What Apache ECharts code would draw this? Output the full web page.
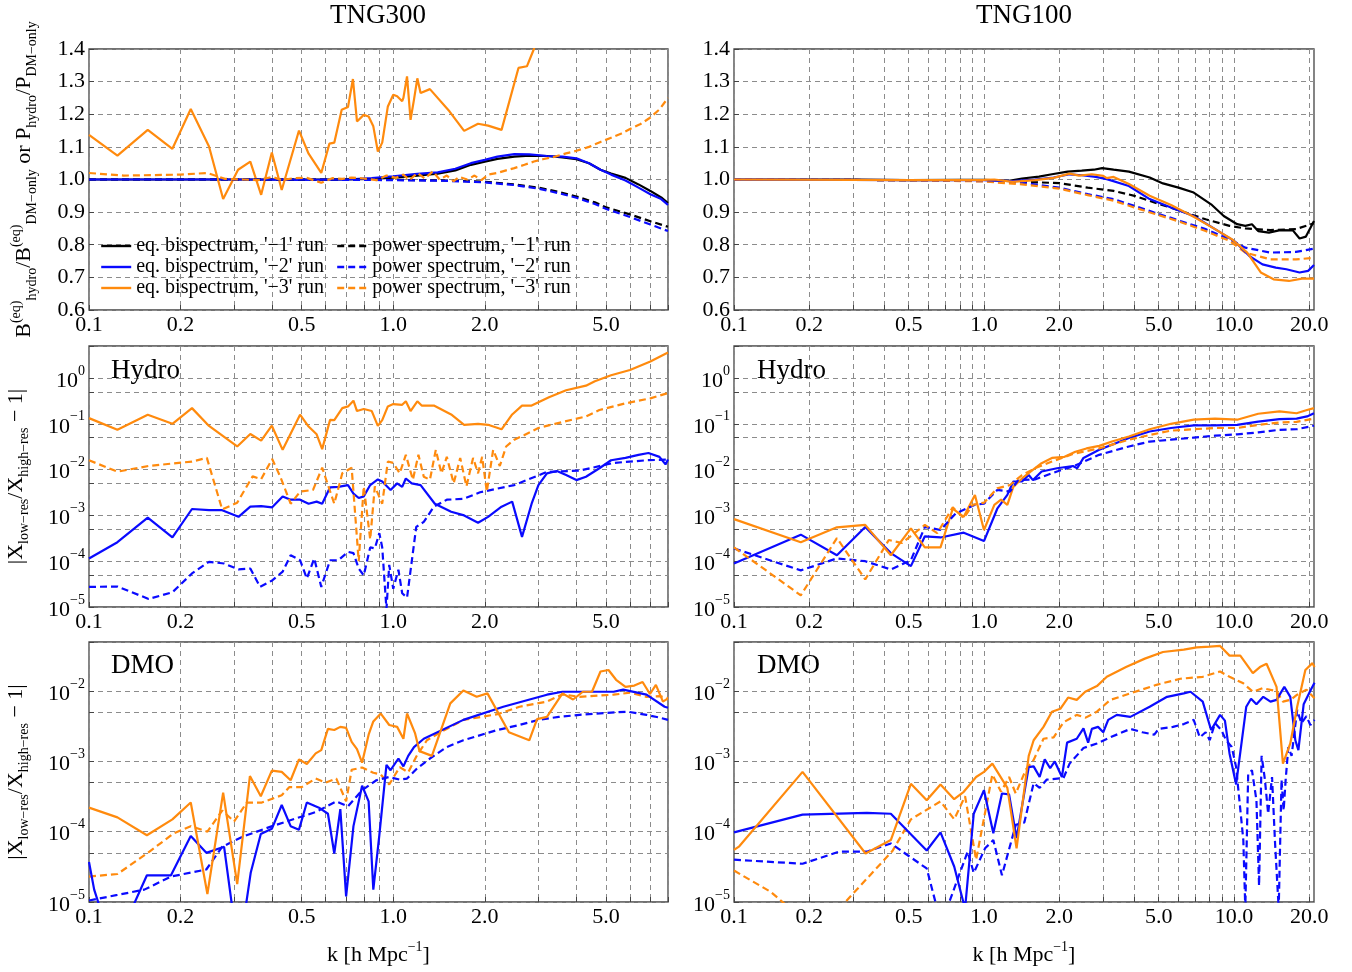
<!DOCTYPE html>
<html><head><meta charset="utf-8">
<script src="https://cdn.jsdelivr.net/npm/echarts@6/dist/echarts.min.js"></script>
<style>html,body{margin:0;padding:0;background:#fff}#c{width:1352px;height:972px}</style>
</head><body><div id="c"></div>
<script>
// ---------- tick / label values ----------
const xTicksLeft = [0.1,0.2,0.3,0.4,0.5,0.6,0.7,0.8,0.9,1,2,3,4,5,6,7,8];
const xTicksRight = [0.1,0.2,0.3,0.4,0.5,0.6,0.7,0.8,0.9,1,2,3,4,5,6,7,8,9,10,20];
const xLabelsLeft = [0.1,0.2,0.5,1,2,5];
const xLabelsRight = [0.1,0.2,0.5,1,2,5,10,20];
const yTicksHydro = [1e-5,5e-5,1e-4,5e-4,1e-3,5e-3,1e-2,5e-2,1e-1,5e-1,1,5];
const yLabelsHydro = [1e-5,1e-4,1e-3,1e-2,1e-1,1];
const yTicksDMO = [1e-5,5e-5,1e-4,5e-4,1e-3,5e-3,1e-2,5e-2];
const yLabelsDMO = [1e-5,1e-4,1e-3,1e-2];

const legendNames = ["eq. bispectrum, '\u22121' run","eq. bispectrum, '\u22122' run","eq. bispectrum, '\u22123' run",
                     "power spectrum, '\u22121' run","power spectrum, '\u22122' run","power spectrum, '\u22123' run"];

// ---------- TNG300 ratio (top left) ----------
const tlBisp1 = [[0.1,1.0],[0.2,1.0],[0.3,1.0],[0.5,1.0],[0.7,1.0],[0.85,1.002],[1.0,1.006],[1.2,1.012],[1.4,1.018],[1.6,1.028],[1.8,1.045],[2.0,1.055],[2.2,1.063],[2.5,1.07],[2.8,1.073],[3.2,1.072],[3.6,1.068],[4.0,1.062],[4.4,1.05],[4.8,1.03],[5.2,1.018],[5.8,1.005],[6.4,0.985],[7.0,0.965],[7.6,0.945],[8.0,0.928]];
const tlBisp2 = [[0.1,1.0],[0.3,1.0],[0.5,0.999],[0.7,1.0],[0.85,1.004],[1.0,1.01],[1.2,1.017],[1.4,1.022],[1.6,1.033],[1.8,1.05],[2.0,1.06],[2.2,1.07],[2.5,1.078],[2.8,1.077],[3.2,1.072],[3.6,1.07],[4.0,1.065],[4.4,1.05],[4.8,1.03],[5.2,1.015],[5.8,0.997],[6.4,0.975],[7.0,0.955],[7.6,0.94],[8.0,0.922]];
const tlBisp3 = [[0.1,1.137],[0.124,1.073],[0.156,1.152],[0.188,1.094],[0.216,1.216],[0.248,1.101],[0.276,0.94],[0.309,1.03],[0.339,1.055],[0.368,0.953],[0.399,1.083],[0.43,0.968],[0.49,1.15],[0.527,1.079],[0.58,1.02],[0.617,1.11],[0.64,1.113],[0.677,1.214],[0.71,1.222],[0.737,1.308],[0.76,1.178],[0.8,1.198],[0.83,1.193],[0.86,1.163],[0.89,1.086],[0.92,1.113],[0.96,1.224],[1.0,1.26],[1.03,1.255],[1.07,1.24],[1.08,1.25],[1.11,1.316],[1.14,1.183],[1.17,1.245],[1.2,1.31],[1.23,1.265],[1.32,1.277],[1.53,1.209],[1.71,1.149],[1.9,1.171],[2.05,1.165],[2.27,1.152],[2.58,1.342],[2.75,1.347],[2.9,1.4],[3.05,1.48]];
const tlPow1 = [[0.1,1.0],[0.5,1.0],[1.0,0.999],[1.5,0.997],[2.0,0.993],[2.5,0.985],[3.0,0.975],[3.5,0.962],[4.0,0.948],[4.6,0.93],[5.0,0.915],[6.0,0.893],[7.0,0.872],[8.0,0.855]];
const tlPow2 = [[0.1,1.0],[0.5,1.0],[1.0,0.998],[1.5,0.996],[2.0,0.991],[2.5,0.983],[3.0,0.972],[3.5,0.958],[4.0,0.944],[4.6,0.925],[5.0,0.91],[6.0,0.885],[7.0,0.862],[8.0,0.842]];
const tlPow3 = [[0.1,1.02],[0.13,1.012],[0.2,1.015],[0.245,1.02],[0.28,1.002],[0.32,1.0],[0.36,0.998],[0.4,1.008],[0.43,0.998],[0.47,1.004],[0.52,1.005],[0.58,0.99],[0.63,1.004],[0.68,1.002],[0.73,1.006],[0.8,1.003],[0.88,0.998],[0.95,1.012],[1.02,1.005],[1.08,1.015],[1.13,0.998],[1.2,1.02],[1.27,1.003],[1.35,1.025],[1.42,1.0],[1.5,1.012],[1.58,0.995],[1.65,1.008],[1.75,1.0],[1.85,1.012],[1.95,0.998],[2.05,1.015],[2.2,1.02],[2.35,1.028],[2.5,1.035],[2.7,1.045],[2.9,1.055],[3.1,1.062],[3.4,1.07],[3.7,1.08],[4.0,1.088],[4.4,1.1],[4.8,1.115],[5.2,1.128],[5.6,1.14],[6.0,1.155],[6.5,1.17],[7.0,1.19],[7.5,1.215],[8.0,1.25]];

// ---------- TNG100 ratio (top right) ----------
const trBisp1 = [[0.1,1.0],[0.3,1.0],[0.5,0.998],[0.8,0.999],[1.0,0.999],[1.26,0.996],[1.42,1.003],[1.66,1.009],[1.87,1.016],[2.16,1.024],[2.46,1.027],[2.75,1.03],[2.97,1.035],[3.3,1.03],[3.8,1.024],[4.6,1.006],[5.2,0.988],[6.0,0.975],[6.9,0.96],[8.1,0.924],[9.1,0.888],[10.3,0.863],[11.1,0.858],[11.8,0.863],[12.5,0.842],[13.8,0.837],[15.3,0.845],[17.2,0.844],[18.3,0.819],[19.4,0.825],[20.9,0.873]];
const trBisp2 = [[0.1,1.0],[0.5,0.998],[1.0,0.998],[1.3,0.995],[1.6,1.0],[1.9,1.006],[2.2,1.016],[2.46,1.013],[2.8,1.008],[3.1,1.001],[3.8,0.98],[4.6,0.94],[5.6,0.914],[6.9,0.888],[8.4,0.848],[10.0,0.812],[11.5,0.766],[13.0,0.74],[14.7,0.73],[16.2,0.725],[18.3,0.715],[19.8,0.72],[20.9,0.738]];
const trBisp3 = [[0.1,1.0],[0.5,0.998],[1.0,0.999],[1.1,1.0],[1.3,0.993],[1.6,0.998],[1.9,1.005],[2.2,1.018],[2.4,1.012],[2.7,1.016],[3.0,1.011],[3.1,1.004],[3.3,1.008],[3.8,0.986],[4.6,0.95],[5.6,0.922],[6.9,0.886],[8.4,0.848],[9.8,0.817],[11.3,0.776],[12.8,0.715],[14.4,0.694],[16.6,0.689],[18.7,0.696],[20.9,0.696]];
const trPow1 = [[0.1,1.0],[0.5,0.998],[1.0,0.997],[1.42,0.993],[2.0,0.989],[2.6,0.975],[3.3,0.965],[4.0,0.95],[4.8,0.93],[6.1,0.904],[7.7,0.878],[9.6,0.858],[11.1,0.85],[14.0,0.845],[17.7,0.848],[20.9,0.866]];
const trPow2 = [[0.1,1.0],[0.5,0.998],[1.0,0.995],[1.42,0.99],[2.0,0.975],[2.6,0.955],[3.3,0.94],[4.0,0.919],[4.8,0.899],[6.1,0.873],[7.7,0.848],[9.6,0.817],[11.1,0.791],[14.0,0.776],[17.7,0.778],[20.9,0.788]];
const trPow3 = [[0.1,1.0],[0.5,0.998],[1.0,0.994],[1.42,0.985],[2.0,0.972],[2.6,0.952],[3.3,0.935],[4.0,0.914],[4.8,0.895],[6.1,0.87],[7.7,0.842],[9.6,0.812],[11.1,0.776],[14.0,0.755],[17.7,0.755],[20.9,0.76]];

// ---------- TNG300 Hydro (middle left) ----------
const mlBisp2 = [[0.1,1.15e-4],[0.124,2.6e-4],[0.156,8.9e-4],[0.188,3.3e-4],[0.218,1.38e-3],[0.248,1.3e-3],[0.274,1.3e-3],[0.31,9.3e-4],[0.339,1.55e-3],[0.368,1.6e-3],[0.40,1.5e-3],[0.433,2.6e-3],[0.46,2.2e-3],[0.494,2.2e-3],[0.527,1.8e-3],[0.56,2.0e-3],[0.584,1.8e-3],[0.62,4.1e-3],[0.66,4.2e-3],[0.71,4.6e-3],[0.74,3.0e-3],[0.77,2.4e-3],[0.80,2.6e-3],[0.84,4.6e-3],[0.89,6.1e-3],[0.92,5.5e-3],[0.98,3.6e-3],[1.03,5.0e-3],[1.07,4.2e-3],[1.1,6.4e-3],[1.15,5e-3],[1.23,4.6e-3],[1.37,1.8e-3],[1.55,1.2e-3],[1.71,1.0e-3],[1.9,6.9e-4],[2.05,9.3e-4],[2.27,1.55e-3],[2.46,2.0e-3],[2.65,3.4e-4],[2.85,1.8e-3],[3.0,4.6e-3],[3.2,8.3e-3],[3.45,9.3e-3],[3.7,7.6e-3],[4.0,5.9e-3],[4.3,7e-3],[4.76,0.0107],[5.2,0.016],[5.8,0.018],[6.4,0.021],[6.9,0.023],[7.5,0.019],[7.85,0.013],[8.0,0.0166]];
const mlBisp3 = [[0.1,0.133],[0.124,0.074],[0.156,0.158],[0.188,0.1],[0.218,0.22],[0.248,0.09],[0.307,0.032],[0.339,0.06],[0.368,0.043],[0.399,0.091],[0.433,0.027],[0.494,0.158],[0.527,0.087],[0.56,0.059],[0.584,0.028],[0.62,0.122],[0.64,0.12],[0.68,0.22],[0.71,0.24],[0.74,0.32],[0.76,0.19],[0.80,0.21],[0.85,0.19],[0.89,0.09],[0.92,0.12],[0.96,0.24],[1.0,0.27],[1.07,0.26],[1.1,0.31],[1.14,0.19],[1.2,0.31],[1.24,0.25],[1.36,0.25],[1.55,0.16],[1.71,0.095],[1.9,0.1],[2.05,0.095],[2.27,0.076],[2.46,0.16],[2.65,0.25],[2.85,0.25],[3.25,0.38],[3.7,0.54],[4.3,0.68],[4.6,0.85],[5.2,1.15],[6.0,1.5],[7.0,2.3],[8.0,3.6]];
const mlPow2 = [[0.1,2.75e-5],[0.124,2.8e-5],[0.157,1.5e-5],[0.188,2.1e-5],[0.218,5.4e-5],[0.248,9.7e-5],[0.278,8.9e-5],[0.31,6.6e-5],[0.339,6.9e-5],[0.365,2.75e-5],[0.40,3.8e-5],[0.433,5.9e-5],[0.46,1.35e-4],[0.494,1.05e-4],[0.52,4.2e-5],[0.55,1.15e-4],[0.58,2.75e-5],[0.62,1.05e-4],[0.66,1.05e-4],[0.71,1.6e-4],[0.74,1.5e-4],[0.77,6.9e-5],[0.80,4.9e-5],[0.84,2.0e-4],[0.87,1.9e-4],[0.90,4.1e-4],[0.92,2.0e-4],[0.95,9e-6],[0.97,8.3e-5],[1.0,2.5e-5],[1.04,6.5e-5],[1.07,2.0e-5],[1.11,1.6e-5],[1.19,5.6e-4],[1.26,7.2e-4],[1.36,1.55e-3],[1.5,2.2e-3],[1.7,2.3e-3],[1.93,3.2e-3],[2.5,4.6e-3],[3.2,8.9e-3],[4.1,9.5e-3],[5.3,0.014],[6.8,0.016],[8.0,0.0166]];
const mlPow3 = [[0.1,0.016],[0.124,0.009],[0.157,0.012],[0.218,0.015],[0.244,0.018],[0.274,0.00135],[0.307,0.0019],[0.345,0.0071],[0.368,0.0062],[0.40,0.017],[0.425,0.0071],[0.46,0.0018],[0.494,0.0033],[0.545,0.0036],[0.584,0.011],[0.64,0.0018],[0.68,0.0083],[0.73,0.011],[0.77,0.0001],[0.80,0.0043],[0.84,0.0003],[0.87,0.0043],[0.92,0.0018],[0.96,0.015],[1.0,0.014],[1.05,0.0083],[1.1,0.021],[1.16,0.006],[1.21,0.021],[1.26,0.007],[1.32,0.006],[1.38,0.027],[1.44,0.0083],[1.5,0.019],[1.58,0.005],[1.66,0.018],[1.74,0.0043],[1.83,0.018],[1.9,0.0083],[1.96,0.019],[2.03,0.0033],[2.13,0.027],[2.24,0.012],[2.35,0.032],[2.5,0.045],[2.7,0.057],[3.0,0.081],[3.4,0.10],[4.3,0.145],[4.76,0.2],[5.8,0.28],[7.0,0.36],[8.0,0.47]];

// ---------- TNG100 Hydro (middle right) ----------
const mrBisp2 = [[0.1,8.9e-5],[0.185,3.8e-4],[0.258,1.35e-4],[0.335,5.6e-4],[0.424,1.5e-4],[0.51,7.8e-5],[0.58,3.5e-4],[0.67,3.3e-4],[0.83,4.2e-4],[1.0,2.75e-4],[1.13,1.4e-3],[1.24,2.8e-3],[1.31,5.5e-3],[1.42,5.5e-3],[1.51,7.6e-3],[1.57,5.9e-3],[1.7,9.1e-3],[1.96,0.0107],[2.27,0.012],[2.36,0.0107],[2.5,0.018],[2.89,0.027],[3.25,0.035],[3.8,0.049],[4.6,0.068],[5.6,0.081],[6.9,0.092],[8.4,0.092],[10.3,0.095],[12.5,0.112],[15.2,0.126],[17.8,0.13],[19.6,0.145],[20.9,0.17]];
const mrBisp3 = [[0.1,8.3e-4],[0.185,2.6e-4],[0.258,5.5e-4],[0.335,6.2e-4],[0.424,1.35e-4],[0.51,5.2e-4],[0.58,2.0e-4],[0.67,2.0e-4],[0.75,1.4e-3],[0.83,9.3e-4],[0.92,2.8e-3],[1.0,4.8e-4],[1.1,1.7e-3],[1.17,2.2e-3],[1.24,1.7e-3],[1.31,4.2e-3],[1.42,6.4e-3],[1.54,9.1e-3],[1.7,0.0138],[1.87,0.018],[2.1,0.019],[2.32,0.0245],[2.57,0.029],[2.89,0.033],[3.25,0.041],[3.8,0.053],[4.6,0.076],[5.6,0.1],[6.9,0.123],[8.4,0.13],[10.3,0.123],[12.5,0.166],[15.2,0.186],[17.8,0.17],[19.6,0.2],[20.9,0.22]];
const mrPow2 = [[0.1,1.9e-4],[0.185,6.3e-5],[0.258,1.15e-4],[0.335,1.0e-4],[0.424,6.6e-5],[0.51,1.05e-4],[0.58,5.6e-4],[0.67,4.8e-4],[0.77,1.1e-3],[0.92,1.7e-3],[1.0,1.8e-3],[1.13,3.6e-3],[1.27,3.3e-3],[1.37,5.9e-3],[1.6,6.1e-3],[1.96,9.1e-3],[2.27,0.0117],[2.89,0.021],[3.8,0.032],[4.6,0.041],[5.6,0.045],[6.9,0.05],[8.4,0.055],[10.3,0.059],[12.5,0.065],[15.2,0.074],[17.8,0.076],[20.9,0.091]];
const mrPow3 = [[0.1,2.0e-4],[0.185,1.8e-5],[0.258,3.2e-4],[0.335,4.0e-5],[0.416,2.9e-4],[0.47,2.5e-4],[0.58,6.2e-4],[0.65,4.1e-4],[0.75,1.5e-3],[0.83,8.7e-4],[0.9,1.7e-3],[1.0,1.9e-3],[1.13,3.9e-3],[1.27,4.6e-3],[1.42,7.6e-3],[1.6,0.0107],[1.87,0.015],[2.27,0.022],[2.89,0.029],[3.8,0.045],[4.6,0.057],[5.6,0.071],[6.9,0.076],[8.4,0.081],[10.3,0.081],[12.5,0.095],[15.2,0.107],[17.8,0.11],[20.9,0.13]];

// ---------- TNG300 DMO (bottom left) ----------
const blBisp2 = [[0.1,3.7e-5],[0.104,1.5e-5],[0.108,9e-6],[0.14,9e-6],[0.155,2.4e-5],[0.186,2.4e-5],[0.216,8.7e-5],[0.243,5.0e-5],[0.278,6.1e-5],[0.295,9e-6],[0.328,9e-6],[0.34,2.6e-5],[0.367,9.3e-5],[0.399,1.1e-4],[0.43,2.4e-4],[0.46,1.2e-4],[0.49,1.07e-4],[0.52,2.6e-4],[0.57,2.2e-4],[0.61,1.8e-4],[0.64,4.9e-5],[0.67,2.1e-4],[0.70,1.2e-5],[0.74,1.2e-4],[0.79,4.5e-4],[0.83,2.7e-4],[0.86,1.5e-5],[0.90,8.9e-5],[0.95,8.9e-4],[0.98,7.5e-4],[1.04,1.1e-3],[1.08,8.5e-4],[1.12,1.2e-3],[1.17,1.6e-3],[1.26,2.1e-3],[1.7,3.9e-3],[2.3,6.0e-3],[3.2,8.9e-3],[3.6,9.8e-3],[5.3,9.8e-3],[5.7,0.0105],[6.8,8.9e-3],[7.8,6.0e-3],[8.0,5.8e-3]];
const blBisp3 = [[0.1,2.2e-4],[0.124,1.6e-4],[0.155,8.9e-5],[0.188,1.5e-4],[0.216,2.6e-4],[0.245,1.3e-5],[0.276,3.6e-4],[0.307,1.8e-5],[0.338,6.2e-4],[0.367,3.2e-4],[0.399,7.4e-4],[0.43,7.1e-4],[0.46,5.4e-4],[0.49,1.07e-3],[0.52,9.2e-4],[0.556,1.3e-3],[0.58,1.45e-3],[0.61,2.9e-3],[0.64,2.8e-3],[0.67,3.1e-3],[0.70,3.0e-3],[0.73,1.9e-3],[0.76,1.5e-3],[0.79,9.6e-4],[0.83,2.4e-3],[0.86,3.7e-3],[0.91,4.8e-3],[0.97,3.3e-3],[1.03,3.1e-3],[1.08,2.1e-3],[1.11,4.8e-3],[1.18,2.5e-3],[1.22,1.4e-3],[1.34,1.2e-3],[1.54,6.7e-3],[1.7,0.0102],[1.88,8.3e-3],[2.04,9.3e-3],[2.4,2.6e-3],[2.8,2.0e-3],[2.97,4.0e-3],[3.2,4.3e-3],[3.6,9.3e-3],[3.9,7.6e-3],[4.2,9.8e-3],[4.5,9.8e-3],[4.8,0.019],[5.1,0.02],[5.4,0.0145],[5.8,0.0115],[6.2,0.012],[6.6,0.0135],[6.98,9.1e-3],[7.3,0.0123],[7.7,7.1e-3],[8.0,7.9e-3]];
const blPow2 = [[0.1,1.05e-5],[0.124,1.26e-5],[0.152,1.5e-5],[0.186,2.3e-5],[0.243,2.9e-5],[0.274,6.1e-5],[0.32,8.5e-5],[0.40,1.2e-4],[0.48,1.55e-4],[0.556,1.9e-4],[0.65,2.7e-4],[0.71,2.3e-4],[0.79,3.9e-4],[0.88,5.4e-4],[0.97,6.0e-4],[1.05,5.5e-4],[1.11,5.7e-4],[1.2,8e-4],[1.32,1.1e-3],[1.5,1.6e-3],[1.7,2.0e-3],[2.2,2.8e-3],[2.6,3.3e-3],[3.0,3.9e-3],[3.5,4.3e-3],[4.1,4.6e-3],[5.0,4.9e-3],[5.9,5.1e-3],[6.8,4.6e-3],[7.5,4.2e-3],[8.0,3.9e-3]];
const blPow3 = [[0.1,2.3e-5],[0.124,2.5e-5],[0.155,4.9e-5],[0.19,9.5e-5],[0.216,1.2e-4],[0.245,1.0e-4],[0.274,2.0e-4],[0.30,1.4e-4],[0.33,2.6e-4],[0.37,2.6e-4],[0.43,3.3e-4],[0.455,4.3e-4],[0.50,4.3e-4],[0.556,5.7e-4],[0.6,5.0e-4],[0.65,5.7e-4],[0.70,2.7e-4],[0.73,7.6e-4],[0.79,8.2e-4],[0.86,6.9e-4],[0.91,6.5e-4],[0.97,4.7e-4],[1.05,8.3e-4],[1.12,7.0e-4],[1.19,1.17e-3],[1.29,2.0e-3],[1.43,2.6e-3],[1.7,3.9e-3],[2.2,4.7e-3],[2.6,6.0e-3],[3.2,7.1e-3],[3.6,9.0e-3],[4.1,8.3e-3],[5.3,8.9e-3],[6.0,9.5e-3],[6.8,8.3e-3],[7.5,8.5e-3],[8.0,7.9e-3]];

// ---------- TNG100 DMO (bottom right) ----------
const brBisp2 = [[0.1,9.8e-5],[0.188,1.75e-4],[0.34,1.85e-4],[0.424,1.8e-4],[0.59,5.4e-5],[0.67,9.8e-5],[0.76,3.2e-5],[0.84,8e-6],[0.91,1.8e-4],[1.0,3.9e-4],[1.09,9.5e-5],[1.18,3.5e-4],[1.26,3.4e-4],[1.35,8.1e-5],[1.51,8.3e-4],[1.58,8.5e-4],[1.67,6.0e-4],[1.75,1.07e-3],[1.84,8e-4],[1.92,1.0e-3],[2.05,6.0e-4],[2.15,1.85e-3],[2.35,2.1e-3],[2.5,2.95e-3],[2.61,1.85e-3],[2.7,2.9e-3],[2.86,3.1e-3],[3.0,2.6e-3],[3.14,3.9e-3],[3.4,4.6e-3],[3.85,4.3e-3],[4.6,6.0e-3],[5.4,8.3e-3],[6.3,9.3e-3],[6.7,9.8e-3],[7.5,7.1e-3],[8.1,2.8e-3],[8.8,4.6e-3],[9.2,3.8e-3],[9.6,1.3e-3],[10.2,4.7e-4],[11.2,6.0e-3],[11.7,7.8e-3],[12.3,6.5e-3],[13.1,8.3e-3],[14.0,7.1e-3],[14.8,7.5e-3],[15.9,0.0115],[16.8,8.3e-3],[17.6,2.0e-3],[18.1,1.45e-3],[19.0,6.5e-3],[20.3,0.0105],[21,0.0132]];
const brBisp3 = [[0.1,5.5e-5],[0.105,6.2e-5],[0.188,7.1e-4],[0.336,4.9e-5],[0.424,7.6e-5],[0.51,4.8e-4],[0.59,2.8e-4],[0.67,4.7e-4],[0.76,2.9e-4],[0.83,3.7e-4],[0.93,6.0e-4],[1.0,7.1e-4],[1.08,9.3e-4],[1.24,4.2e-4],[1.35,5.8e-5],[1.51,1.2e-3],[1.58,2.0e-3],[1.73,3.1e-3],[1.87,5.1e-3],[2.02,5.6e-3],[2.17,8.1e-3],[2.35,7.5e-3],[2.54,9.8e-3],[2.83,0.0118],[3.1,0.016],[3.7,0.022],[4.4,0.029],[5.2,0.036],[6.3,0.039],[7.1,0.042],[8.0,0.043],[8.8,0.044],[9.6,0.032],[10.6,0.032],[11.9,0.018],[12.7,0.022],[13.5,0.0245],[14.8,0.0115],[15.7,9.3e-4],[16.8,1.8e-3],[17.9,6.0e-3],[19.3,0.02],[20.6,0.025],[21,0.022]];
const brPow2 = [[0.1,4.0e-5],[0.188,3.5e-5],[0.263,5.2e-5],[0.34,5.2e-5],[0.424,6.8e-5],[0.59,3.0e-5],[0.65,8e-6],[0.71,8e-6],[0.86,5.2e-5],[0.91,2.6e-5],[1.01,5.8e-5],[1.09,7.6e-5],[1.18,2.4e-5],[1.34,1.25e-4],[1.45,1.35e-4],[1.58,4.9e-4],[1.67,4.2e-4],[1.78,5.5e-4],[2.08,5.8e-4],[2.2,9.3e-4],[2.5,1.55e-3],[2.83,1.8e-3],[3.2,2.2e-3],[3.85,2.9e-3],[4.3,2.6e-3],[4.8,2.4e-3],[5.0,2.9e-3],[5.7,3.1e-3],[6.3,3.4e-3],[6.9,3.9e-3],[7.3,2.2e-3],[7.7,2.6e-3],[8.0,2.0e-3],[8.4,3.5e-3],[8.9,2.8e-3],[9.3,2.0e-3],[9.8,1.6e-3],[10.2,8.3e-4],[10.9,7.6e-5],[11.1,8e-6],[11.4,6.7e-4],[11.8,7.5e-4],[12.3,2.8e-4],[12.6,1.7e-5],[12.9,1.2e-3],[13.3,5.5e-4],[13.7,1.8e-4],[14.2,6e-4],[14.6,6.9e-5],[15.1,8e-6],[15.5,5.5e-4],[15.8,2e-4],[16.1,5.5e-4],[16.5,1.6e-3],[17.0,1.2e-3],[17.9,5.4e-3],[18.6,3.5e-3],[19.5,4.4e-3],[20.2,3.3e-3],[21,3.9e-3]];
const brPow3 = [[0.1,2.8e-5],[0.14,1.4e-5],[0.185,6e-6],[0.263,8e-6],[0.43,5.3e-5],[0.51,1.5e-4],[0.67,2.7e-4],[0.76,1.5e-4],[0.84,3.2e-4],[0.93,4.0e-5],[1.08,6.5e-4],[1.17,3.7e-4],[1.26,6.0e-4],[1.34,3.5e-4],[1.47,7.6e-4],[1.58,1.05e-3],[1.73,2.1e-3],[1.9,2.2e-3],[2.08,3.6e-3],[2.35,4.6e-3],[2.55,4.2e-3],[2.83,5.1e-3],[3.2,7.5e-3],[3.85,9.3e-3],[4.9,0.0123],[6.1,0.015],[7.5,0.016],[8.8,0.019],[9.6,0.016],[10.9,0.0129],[11.9,9.8e-3],[13.0,0.011],[14.8,0.01],[15.7,7.1e-3],[16.8,7.5e-3],[17.9,8.9e-3],[19.5,0.0105],[21,7.9e-3]];

// ---------- styling ----------
const FONT = '"Liberation Serif","DejaVu Serif",serif';
const BLACK = '#000000', BLUE = '#0a0aff', ORANGE = '#ff8a0d';
const DASH = [7, 4];
const TICKFONT = 22;
const gridLine = {show:true, lineStyle:{color:'#8c8c8c', width:1, type:[5,4]}};

const grids = [
  {left:89, top:49, width:579, height:261},
  {left:734, top:49, width:580, height:261},
  {left:89, top:346, width:579, height:261},
  {left:734, top:346, width:580, height:261},
  {left:89, top:642, width:579, height:260},
  {left:734, top:642, width:580, height:260}
].map(g => Object.assign(g, {show:true, borderColor:'#444', borderWidth:1.3, backgroundColor:'transparent'}));

const richName = {
  b:{fontFamily:FONT, fontSize:22, lineHeight:30, verticalAlign:'middle', color:'#000'},
  sp:{fontFamily:FONT, fontSize:14, lineHeight:14, verticalAlign:'top', color:'#000'},
  sb:{fontFamily:FONT, fontSize:14, lineHeight:14, verticalAlign:'bottom', color:'#000'}
};

function xAxis(i) {
  const right = i % 2 === 1;
  const ax = {
    type:'log', logBase:10, gridIndex:i, min:0.1, max: right ? 20.9 : 8.0,
    axisLine:{show:false},
    axisTick:{show:true, inside:true, length:5, customValues: right ? xTicksRight : xTicksLeft, lineStyle:{color:'#444'}},
    splitLine: gridLine,
    axisLabel:{customValues: right ? xLabelsRight : xLabelsLeft, formatter: v => Number(v).toFixed(1),
               fontFamily:FONT, fontSize:TICKFONT, color:'#000', margin:4}
  };
  if (i >= 4) {
    Object.assign(ax, {name:'{b|k [h Mpc}{sp|\u22121}{b|]}', nameLocation:'middle', nameGap:38,
      nameTextStyle:{rich:richName}});
  }
  return ax;
}
function powLabel(v) {
  const e = Math.round(Math.log10(v));
  return '{b|10}{s|' + (e < 0 ? '\u2212' + (-e) : String(e)) + '}';
}
const richPow = {
  b:{fontFamily:FONT, fontSize:TICKFONT, lineHeight:28, verticalAlign:'bottom', color:'#000'},
  s:{fontFamily:FONT, fontSize:14, lineHeight:14, verticalAlign:'top', color:'#000'}
};
const yNameRes = '{b|\u007CX}{sb|low\u2212res}{b|/X}{sb|high\u2212res}{b| \u2212 1\u007C}';
function yAxis(i) {
  if (i < 2) {
    const ax = {type:'value', gridIndex:i, min:0.6, max:1.4, interval:0.1,
      axisLine:{show:false}, axisTick:{show:true, inside:true, length:5, lineStyle:{color:'#444'}},
      splitLine: gridLine,
      axisLabel:{formatter: v => v.toFixed(1), fontFamily:FONT, fontSize:TICKFONT, color:'#000', margin:4}};
    if (i === 0) Object.assign(ax, {
      name:'{b|B}{sp|(eq)}{sb|hydro}{b|/B}{sp|(eq)}{sb|DM\u2212only}{b| or P}{sb|hydro}{b|/P}{sb|DM\u2212only}',
      nameLocation:'middle', nameGap:50, nameRotate:90, nameTextStyle:{rich:richName}});
    return ax;
  }
  const hydro = i < 4;
  const ax = {type:'log', logBase:10, gridIndex:i, min:1e-5, max: hydro ? 5 : 0.05,
    axisLine:{show:false},
    axisTick:{show:true, inside:true, length:5, customValues: hydro ? yTicksHydro : yTicksDMO, lineStyle:{color:'#444'}},
    splitLine: gridLine,
    axisLabel:{customValues: hydro ? yLabelsHydro : yLabelsDMO, formatter: powLabel, rich: richPow, margin:4}};
  if (i % 2 === 0) Object.assign(ax, {name: yNameRes, nameLocation:'middle', nameGap:58, nameRotate:90,
    nameTextStyle:{rich:richName}});
  return ax;
}

function line(name, data, idx, color, dashed) {
  return {type:'line', name, data, xAxisIndex:idx, yAxisIndex:idx, symbol:'none', showSymbol:false,
    clip:true, animation:false, color,
    lineStyle:{color, width:2.2, type: dashed ? DASH : 'solid'}, itemStyle:{color}};
}

const series = [
  line(legendNames[0], tlBisp1, 0, BLACK, false),
  line(legendNames[1], tlBisp2, 0, BLUE, false),
  line(legendNames[2], tlBisp3, 0, ORANGE, false),
  line(legendNames[3], tlPow1, 0, BLACK, true),
  line(legendNames[4], tlPow2, 0, BLUE, true),
  line(legendNames[5], tlPow3, 0, ORANGE, true),
  line('TNG100 bisp -1', trBisp1, 1, BLACK, false),
  line('TNG100 pow -1', trPow1, 1, BLACK, true),
  line('TNG100 pow -2', trPow2, 1, BLUE, true),
  line('TNG100 pow -3', trPow3, 1, ORANGE, true),
  line('TNG100 bisp -2', trBisp2, 1, BLUE, false),
  line('TNG100 bisp -3', trBisp3, 1, ORANGE, false),
  line('TNG300 hydro bisp -2', mlBisp2, 2, BLUE, false),
  line('TNG300 hydro bisp -3', mlBisp3, 2, ORANGE, false),
  line('TNG300 hydro pow -2', mlPow2, 2, BLUE, true),
  line('TNG300 hydro pow -3', mlPow3, 2, ORANGE, true),
  line('TNG100 hydro bisp -2', mrBisp2, 3, BLUE, false),
  line('TNG100 hydro bisp -3', mrBisp3, 3, ORANGE, false),
  line('TNG100 hydro pow -2', mrPow2, 3, BLUE, true),
  line('TNG100 hydro pow -3', mrPow3, 3, ORANGE, true),
  line('TNG300 dmo pow -3', blPow3, 4, ORANGE, true),
  line('TNG300 dmo pow -2', blPow2, 4, BLUE, true),
  line('TNG300 dmo bisp -2', blBisp2, 4, BLUE, false),
  line('TNG300 dmo bisp -3', blBisp3, 4, ORANGE, false),
  line('TNG100 dmo pow -3', brPow3, 5, ORANGE, true),
  line('TNG100 dmo pow -2', brPow2, 5, BLUE, true),
  line('TNG100 dmo bisp -2', brBisp2, 5, BLUE, false),
  line('TNG100 dmo bisp -3', brBisp3, 5, ORANGE, false)
];

const legendCommon = {orient:'vertical', itemGap:1, itemWidth:30, itemHeight:14, selectedMode:false,
  itemStyle:{opacity:0, borderWidth:0},
  lineStyle:{width:2.4},
  textStyle:{fontFamily:FONT, fontSize:20, color:'#000'}, padding:0};

function label(text, x, y, size) {
  return {type:'text', x, y, style:{text, font: size + 'px ' + FONT, fill:'#000', textAlign:'left', textVerticalAlign:'middle'}, z:100};
}
function title(text, x, y) {
  return {type:'text', x, y, style:{text, font: '27px ' + FONT, fill:'#000', textAlign:'center', textVerticalAlign:'middle'}, z:100};
}

const chart = echarts.init(document.getElementById('c'), null, {renderer:'canvas'});
chart.setOption({
  animation:false,
  backgroundColor:'#ffffff',
  grid: grids,
  xAxis: [0,1,2,3,4,5].map(xAxis),
  yAxis: [0,1,2,3,4,5].map(yAxis),
  legend: [
    Object.assign({data: legendNames.slice(0,3), left:100, top:236}, legendCommon),
    Object.assign({data: legendNames.slice(3,6), left:336, top:236}, legendCommon)
  ],
  graphic: [
    title('TNG300', 378, 16), title('TNG100', 1024, 16),
    label('Hydro', 111, 371, 27), label('Hydro', 757, 371, 27),
    label('DMO', 111, 666, 27), label('DMO', 757, 666, 27)
  ],
  series
});
</script>
</body></html>
